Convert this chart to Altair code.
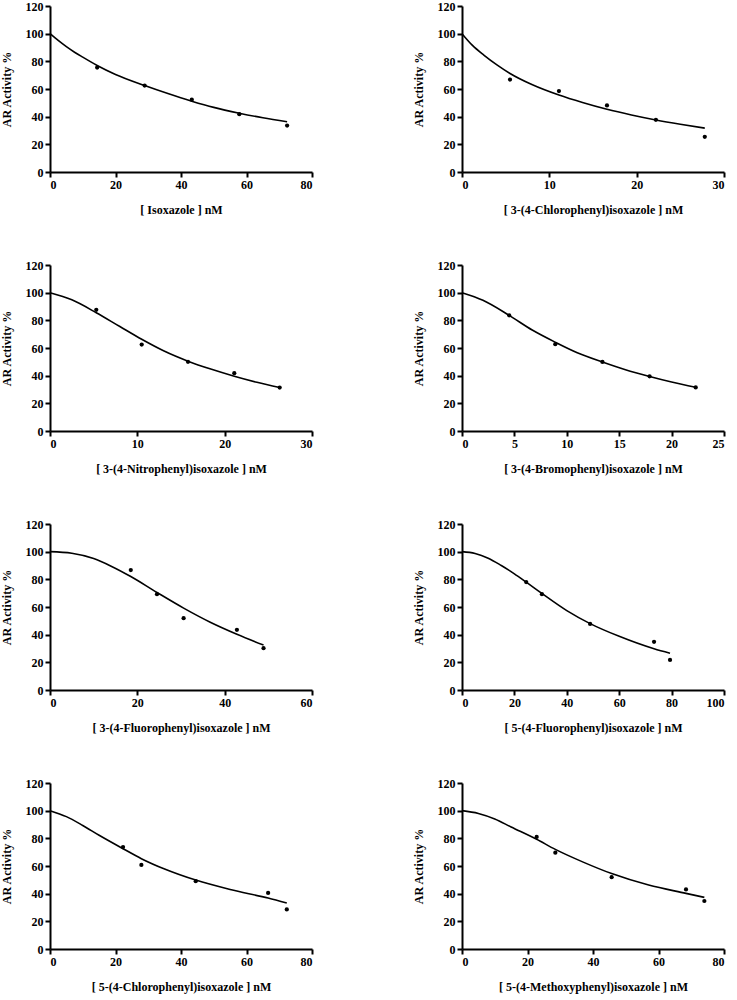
import altair as alt
import pandas as pd

# ---------------- data ----------------
titles = [
    "[ Isoxazole ] nM",
    "[ 3-(4-Chlorophenyl)isoxazole ] nM",
    "[ 3-(4-Nitrophenyl)isoxazole ] nM",
    "[ 3-(4-Bromophenyl)isoxazole ] nM",
    "[ 3-(4-Fluorophenyl)isoxazole ] nM",
    "[ 5-(4-Fluorophenyl)isoxazole ] nM",
    "[ 5-(4-Chlorophenyl)isoxazole ] nM",
    "[ 5-(4-Methoxyphenyl)isoxazole ] nM",
]
x_max = [80, 30, 30, 25, 60, 100, 80, 80]
x_ticks = [
    [0, 20, 40, 60, 80],
    [0, 10, 20, 30],
    [0, 10, 20, 30],
    [0, 5, 10, 15, 20, 25],
    [0, 20, 40, 60],
    [0, 20, 40, 60, 80, 100],
    [0, 20, 40, 60, 80],
    [0, 20, 40, 60, 80],
]
y_ticks = [0, 20, 40, 60, 80, 100, 120]

# measured points
pts_x = [
    [14.4, 28.9, 43.3, 57.8, 72.4],
    [5.5, 11.1, 16.6, 22.2, 27.8],
    [5.3, 10.5, 15.8, 21.1, 26.3],
    [4.5, 8.9, 13.4, 17.9, 22.3],
    [18.5, 24.5, 30.6, 42.8, 48.9],
    [24.5, 30.5, 48.9, 73.3, 79.4],
    [22.3, 27.9, 44.5, 66.6, 72.3],
    [22.8, 28.5, 45.7, 68.4, 74.0],
]
pts_y = [
    [75.5, 62.5, 52.3, 41.8, 33.6],
    [66.8, 58.5, 48.1, 37.7, 25.4],
    [87.6, 62.5, 50.0, 41.8, 31.4],
    [83.6, 62.8, 49.9, 39.5, 31.5],
    [86.7, 69.3, 51.9, 43.5, 30.2],
    [78.0, 69.3, 47.8, 34.8, 21.7],
    [73.7, 60.8, 49.0, 40.5, 28.6],
    [81.0, 69.6, 51.9, 43.1, 34.7],
]

# fitted curves
fit_x = [
    [0, 2.5, 5, 7.5, 10, 14.4, 20, 28.9, 36, 43.3, 50, 57.8, 65, 72.4],
    [0, 1.2, 2.5, 4, 5.5, 8, 11.1, 13.8, 16.6, 19.4, 22.2, 25, 27.8],
    [0, 2.5, 5.3, 8, 10.5, 13, 15.8, 18.5, 21.1, 23.7, 26.3],
    [0, 2, 4.5, 6.7, 8.9, 11, 13.4, 15.6, 17.9, 20, 22.3],
    [0, 5, 10, 14, 18.5, 24.5, 30.6, 36.7, 42.8, 48.9],
    [0, 5, 10, 15, 20, 24.5, 30.5, 40, 48.9, 60, 73.3, 79.4],
    [0, 5, 10, 15, 22.3, 27.9, 35, 44.5, 55, 66.6, 72.3],
    [0, 5, 10, 15, 22.8, 28.5, 37, 45.7, 57, 68.4, 74.0],
]
fit_y = [
    [100, 95.1, 90.6, 86.6, 83, 77, 70.5, 62.5, 56.7, 51.2, 46.7, 42.5, 39.2, 36.3],
    [100, 91.5, 84.5, 77.4, 71.2, 63.2, 55.6, 50.2, 45.3, 41.2, 37.6, 34.5, 31.7],
    [100, 94.8, 85.5, 75.5, 66.3, 58, 50.5, 44.6, 39.6, 35.2, 31.4],
    [100, 94.5, 83.6, 73, 64.2, 56.6, 49.9, 44.3, 39.4, 35.4, 31.6],
    [100, 98.9, 95, 89.5, 82, 70.5, 59.2, 49, 40.3, 32.5],
    [100, 98.7, 95.3, 90, 84, 78, 69.8, 57.4, 48, 38.8, 29.8, 26.6],
    [100, 95.7, 89.3, 82.2, 72.5, 65.3, 57.8, 49.8, 43, 36.8, 33.2],
    [100, 98, 94, 88.2, 79.3, 72, 62.8, 54.5, 46.2, 40.2, 37.3],
]

FONT = "Liberation Serif"


def panel(i):
    pts = pd.DataFrame({"x": pts_x[i], "y": pts_y[i]})
    fit = pd.DataFrame({"x": fit_x[i], "y": fit_y[i]})
    xs = alt.Scale(domain=[0, x_max[i]], nice=False, zero=True)
    ys = alt.Scale(domain=[0, 120], nice=False)
    xax = alt.Axis(values=x_ticks[i], title=titles[i], format="d")
    yax = alt.Axis(values=y_ticks, title="AR Activity %", format="d")
    line = alt.Chart(fit).mark_line(
        color="black", strokeWidth=1.6, interpolate="monotone", clip=False
    ).encode(
        x=alt.X("x:Q", scale=xs, axis=xax),
        y=alt.Y("y:Q", scale=ys, axis=yax),
    )
    dots = alt.Chart(pts).mark_circle(color="black", size=18, opacity=1).encode(
        x=alt.X("x:Q", scale=xs, axis=xax),
        y=alt.Y("y:Q", scale=ys, axis=yax),
    )
    return alt.layer(line, dots).properties(width=262, height=166)


rows = []
for r in range(4):
    rows.append(alt.hconcat(panel(2 * r), panel(2 * r + 1), spacing=99))

chart = alt.vconcat(*rows, spacing=44).properties(
    padding={"left": 0, "top": 0, "right": 5, "bottom": 5},
    background="white",
).configure_view(stroke=None).configure_axis(
    domainColor="black",
    domainWidth=2,
    tickColor="black",
    tickWidth=2,
    tickSize=5,
    grid=False,
    labelFont=FONT,
    labelFontSize=12,
    labelFontWeight="bold",
    labelColor="black",
    labelPadding=2,
    titleFont=FONT,
    titleFontSize=12,
    titleFontWeight="bold",
    titleColor="black",
).configure_axisX(
    titlePadding=14,
).configure_axisY(
    titlePadding=12,
)

chart.save("out.html", embed_options={"renderer": "svg", "actions": False})
